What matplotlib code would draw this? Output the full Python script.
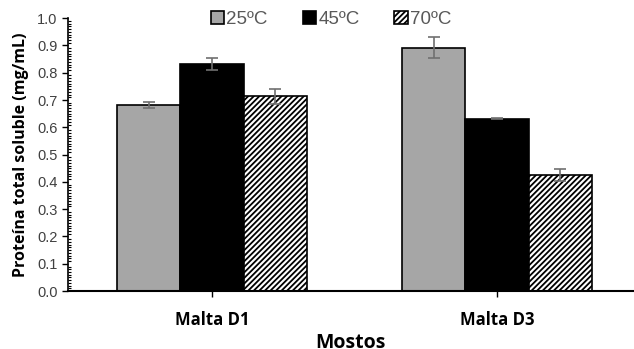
import matplotlib.pyplot as plt
import numpy as np
from matplotlib.ticker import MultipleLocator, FormatStrFormatter

mostos = ['Malta D1', 'Malta D3']
temps = ['25ºC', '45ºC', '70ºC']
valores = {
    '25ºC': [0.681, 0.892],
    '45ºC': [0.831, 0.632],
    '70ºC': [0.713, 0.425],
}
errores = {
    '25ºC': [0.012, 0.038],
    '45ºC': [0.022, 0.003],
    '70ºC': [0.026, 0.022],
}

plt.rcParams['hatch.linewidth'] = 1.3
fig = plt.figure(figsize=(6.34, 3.49), dpi=100)
ax = fig.add_axes([0.107, 0.166, 0.893, 0.782])

colors = ['#a6a6a6', 'black', 'white']
hatches = [None, None, '//////']
width = 0.222
x = np.arange(len(mostos))

for i, t in enumerate(temps):
    ax.bar(x + (i - 1) * width, valores[t], width, color=colors[i], edgecolor='black',
           linewidth=1.2, hatch=hatches[i], label=t, zorder=2)
    ax.errorbar(x + (i - 1) * width, valores[t], yerr=errores[t], fmt='none',
                ecolor='#707070', elinewidth=1.2, capsize=4, capthick=1.2, zorder=3)

ax.set_xlim(-0.505, 1.48)
ax.set_ylim(0, 1.0)
ax.yaxis.set_major_locator(MultipleLocator(0.1))
ax.yaxis.set_minor_locator(MultipleLocator(0.01))
ax.yaxis.set_major_formatter(FormatStrFormatter('%.1f'))
for lab in ax.get_yticklabels():
    lab.set_family('Liberation Sans')
ax.tick_params(axis='y', which='major', direction='out', length=4, width=1,
               labelsize=10.5, labelcolor='#404040')
ax.tick_params(axis='y', which='minor', direction='in', length=2, width=0.8)
ax.set_xticks(x)
ax.set_xticklabels(mostos, fontsize=12, fontweight='bold', family='Open Sans')
ax.tick_params(axis='x', direction='out', length=4, width=1, pad=10)

for s in ['top', 'right']:
    ax.spines[s].set_visible(False)
ax.spines['left'].set_linewidth(1.2)
ax.spines['bottom'].set_linewidth(1.5)

ax.set_ylabel('Proteína total soluble (mg/mL)', fontsize=11.5, fontweight='bold',
              family='Open Sans', labelpad=6)
ax.set_xlabel('Mostos', fontsize=14, fontweight='bold', family='Open Sans', labelpad=3)

leg = ax.legend(loc='center', bbox_to_anchor=(0.465, 0.995), ncol=3, frameon=False,
                prop={'family': 'Liberation Sans', 'size': 13.5}, handlelength=0.7,
                handleheight=0.7, handletextpad=0.15, columnspacing=1.85,
                borderaxespad=0)
for txt in leg.get_texts():
    txt.set_color('#595959')

fig.savefig('out.png', dpi=100)
